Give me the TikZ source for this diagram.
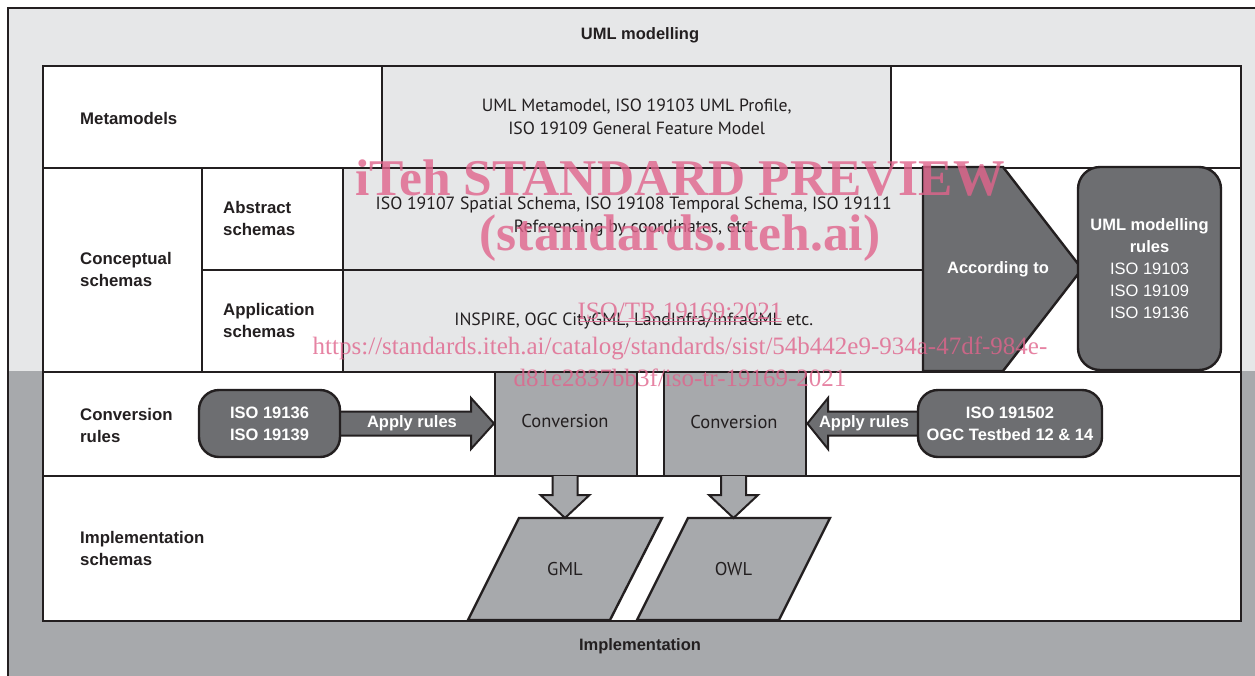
\documentclass[tikz,border=0pt]{standalone}
\usepackage{fontspec}
\setmainfont{PT Sans}
\newfontfamily\lblfont{Liberation Sans}
\newfontfamily\wmfont{Liberation Serif}
\usetikzlibrary{calc}
\definecolor{lgrey}{HTML}{E6E7E8}
\definecolor{mgrey}{HTML}{A7A9AC}
\definecolor{dgrey}{HTML}{6D6E71}
\definecolor{ink}{HTML}{231F20}
\definecolor{wm}{HTML}{E0648C}
\tikzset{
  frame/.style={draw=ink, line width=2.4pt},
  cell/.style={frame, rectangle, inner sep=0pt, anchor=north west, fill=white},
  gfont/.style={font=\fontsize{17.7}{23}\selectfont},
  gcell/.style={cell, fill=lgrey, align=center, text=ink, gfont},
  lbl/.style={anchor=west, align=left, text=ink, inner sep=0pt,
    font=\lblfont\bfseries\fontsize{16.8}{22}\selectfont},
  wlbl/.style={text=white, align=center, inner sep=0pt,
    font=\lblfont\bfseries\fontsize{16.5}{22}\selectfont},
  rbox/.style={frame, fill=dgrey, rounded corners=22pt, inner sep=0pt,
    text=white, align=center, font=\lblfont\bfseries\fontsize{16.5}{22}\selectfont},
  otext/.style={text=ink, font=\fontsize{18.5}{22}\selectfont},
  barrow/.style={draw=ink, line width=2pt, fill=dgrey, line join=miter},
  garrow/.style={draw=ink, line width=2pt, fill=mgrey, line join=miter},
  wmark/.style={text=wm, opacity=0.8, inner sep=0pt},
}
\begin{document}
\begin{tikzpicture}[x=1pt,y=-1pt]
\useasboundingbox (0,0) rectangle (1255,675);
\fill[white] (0,0) rectangle (1255,675);
% outer regions
\fill[lgrey] (8,8) rectangle (1258,371);
\fill[mgrey] (8,371) rectangle (1258,678);
\draw[frame] (1258,8) -- (8,8) -- (8,678);
\node[font=\lblfont\bfseries\fontsize{16.5}{22}\selectfont, text=ink] (umltitle) at (640,35) {UML modelling};
\node[font=\lblfont\bfseries\fontsize{16.5}{22}\selectfont, text=ink] (impltitle) at (640,646) {Implementation};
% rows
\node[cell, minimum width=1198pt, minimum height=102pt] (metarow) at (42,65) {};
\node[cell, minimum width=1198pt, minimum height=204pt] (concrow) at (42,167) {};
\node[cell, minimum width=1198pt, minimum height=104pt] (convrow) at (42,371) {};
\node[cell, minimum width=1198pt, minimum height=145pt] (implrow) at (42,475) {};
% conceptual sub cells
\node[cell, minimum width=159pt, minimum height=204pt] (conccell) at (42,167) {};
\node[cell, minimum width=141pt, minimum height=102pt] (abscell) at (201,167) {};
\node[cell, minimum width=141pt, minimum height=102pt] (appcell) at (201,269) {};
% grey content cells
\node[gcell, minimum width=509pt, minimum height=102pt] (meta) at (381,65)
  {UML Metamodel, ISO 19103 UML Profile,\\ISO 19109 General Feature Model};
\node[gcell, minimum width=581pt, minimum height=102pt] (absg) at (342,167) {};
\node[align=center, text=ink, gfont] (abstext) at ($(absg.center)+(0,-3)$)
  {ISO 19107 Spatial Schema, ISO 19108 Temporal Schema, ISO 19111\\Referencing by coordinates, etc.};
\node[gcell, minimum width=581pt, minimum height=102pt] (appg) at (342,269)
  {INSPIRE, OGC CityGML, LandInfra/InfraGML etc.};
% labels
\node[lbl] (lmeta) at (80,118) {Metamodels};
\node[lbl] (lconc) at (80,269) {Conceptual\\schemas};
\node[lbl] (labs) at (223,218) {Abstract\\schemas};
\node[lbl] (lapp) at (223,320) {Application\\schemas};
\node[lbl] (lconv) at (80,425) {Conversion\\rules};
\node[lbl] (limpl) at (80,548) {Implementation\\schemas};
% according-to pentagon
\draw[frame, fill=dgrey, line join=miter] (923,167) -- (1003,167) -- (1082,269) -- (1003,371) -- (923,371) -- cycle;
\node[wlbl] (acc) at (998,269) {According to};
\node[rbox, minimum width=143pt, minimum height=203pt] (uml) at (1149.5,268.5)
  {UML modelling\\rules\\{\mdseries ISO 19103}\\{\mdseries ISO 19109}\\{\mdseries ISO 19136}};
% conversion boxes
\node[cell, fill=mgrey, minimum width=142pt, minimum height=104pt] (conv1) at (494,371) {};
\node[otext] (conv1t) at (565,421) {Conversion};
\node[cell, fill=mgrey, minimum width=142pt, minimum height=104pt] (conv2) at (663,371) {};
\node[otext] (conv2t) at (734,422) {Conversion};
% rule boxes and arrows
\coordinate (lrc) at (269.5,423.5);
\coordinate (rrc) at (1010,423.5);
\draw[barrow] (330,411.5) -- (471,411.5) -- (471,398) -- (conv1.west |- lrc) -- (471,449) -- (471,435.5) -- (330,435.5) -- cycle;
\draw[barrow] (928,411.5) -- (828,411.5) -- (828,398) -- (conv2.east |- rrc) -- (828,449) -- (828,435.5) -- (928,435.5) -- cycle;
\node[rbox, rounded corners=20pt, minimum width=141pt, minimum height=67pt] (lrules) at (lrc) {ISO 19136\\ISO 19139};
\node[rbox, rounded corners=20pt, minimum width=184pt, minimum height=67pt] (rrules) at (rrc) {ISO 191502\\OGC Testbed 12 \& 14};
\node[wlbl] (apl) at (412,423) {Apply rules};
\node[wlbl] (apr) at (864,423) {Apply rules};
% outputs
\draw[frame, fill=mgrey, line join=miter] (519,518) -- (662,518) -- (610,620) -- (468,620) -- cycle;
\draw[frame, fill=mgrey, line join=miter] (688,518) -- (830,518) -- (779,620) -- (637,620) -- cycle;
\node[otext] (gml) at (565,569) {GML};
\node[otext] (owl) at (733.5,569) {OWL};
\coordinate (gmltop) at (565,518);
\coordinate (owltop) at (733.5,518);
\draw[garrow] (552.5,476) -- (552.5,495) -- (540.5,495) -- (gmltop) -- (589.5,495) -- (577.5,495) -- (577.5,476);
\draw[garrow] (721,476) -- (721,495) -- (709,495) -- (owltop) -- (758,495) -- (746,495) -- (746,476);
% watermark
\node[wmark, font=\wmfont\bfseries\fontsize{51.5}{52}\selectfont] (wm1) at (680,178) {iTeh STANDARD PREVIEW};
\node[wmark, font=\wmfont\bfseries\fontsize{51.5}{52}\selectfont] (wm2) at (680,238) {(standards.iteh.ai)};
\node[wmark, font=\wmfont\fontsize{25}{25}\selectfont] (wm3) at (680,312) {\underline{ISO/TR 19169:2021}};
\node[wmark, font=\wmfont\fontsize{25}{25}\selectfont] (wm4) at (680,348) {https://standards.iteh.ai/catalog/standards/sist/54b442e9-934a-47df-984e-};
\node[wmark, font=\wmfont\fontsize{25}{25}\selectfont] (wm5) at (680,378) {d81e2837bb3f/iso-tr-19169-2021};
\end{tikzpicture}
\end{document}
